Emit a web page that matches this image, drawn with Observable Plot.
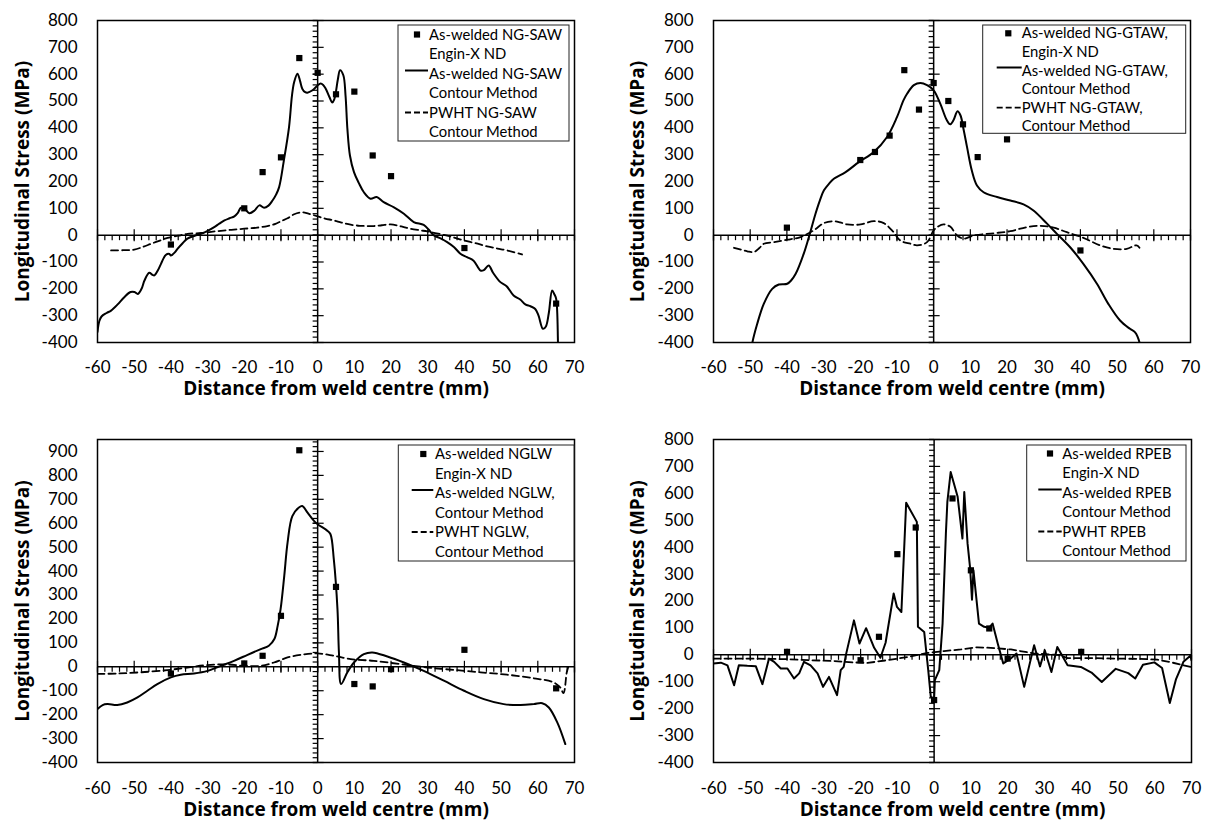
<!DOCTYPE html>
<html><head><meta charset="utf-8">
<script src="https://cdn.jsdelivr.net/npm/d3@7"></script>
<script src="https://cdn.jsdelivr.net/npm/@observablehq/plot@0.6"></script>
<style>
body{margin:0;background:#fff;}
#chart{position:relative;width:1208px;height:823px;background:#fff;font-family:Lato, sans-serif;overflow:hidden;}
#chart svg{position:absolute;}
</style></head><body><div id="chart"></div>
<script>
// ---------- shared axis data ----------
const xTicks = [-60,-50,-40,-30,-20,-10,0,10,20,30,40,50,60,70];
const yTicks800 = [-400,-300,-200,-100,0,100,200,300,400,500,600,700,800];
const yTicks900 = [-400,-300,-200,-100,0,100,200,300,400,500,600,700,800,900];
const xTitle = "Distance from weld centre (mm)";
const yTitle = "Longitudinal Stress (MPa)";

// ---------- Panel 1: NG-SAW ----------
const sawND = [[-40,-35],[-20,100],[-15,235],[-10,290],[-5,660],[0,605],[5,525],[10,535],[15,297],[20,220],[40,-48],[65,-255]];
const sawContour = [[-60,-360],[-59.5,-320],[-58.9,-303],[-57.5,-290],[-56.3,-281],[-54.5,-258],[-52.7,-231],[-51,-212],[-49.9,-212],[-49,-219],[-48,-200],[-47.2,-169],[-45.9,-140],[-45,-148],[-44.5,-150],[-43.5,-130],[-42.7,-107],[-41.4,-74],[-40.4,-70],[-40,-76],[-39,-65],[-38.2,-51],[-36.8,-30],[-35.5,-13],[-33.5,-2],[-31.8,5],[-30,16],[-28.2,30],[-26.8,43],[-25.4,55],[-24,63],[-22.7,70],[-21.8,82],[-20.9,102],[-19.8,97],[-18.6,82],[-17.2,92],[-15.9,111],[-14.6,102],[-13.4,110],[-12.3,129],[-11.3,152],[-10.5,179],[-9.2,279],[-7.8,403],[-7.0,520],[-6.4,571],[-5.5,602],[-4.8,575],[-4.2,546],[-3.4,533],[-2.8,531],[-1.4,540],[0,558],[0.8,565],[1.5,560],[2.2,546],[3.2,515],[4.0,494],[4.5,505],[4.9,528],[5.5,580],[6.1,615],[7.0,596],[7.6,520],[8.1,397],[8.8,297],[9.9,235],[11.2,195],[12.6,160],[14.4,136],[16.1,142],[18.0,123],[20.8,104],[23.5,80],[26.2,49],[28.9,38],[30.3,20],[31.7,-1],[33.5,-12],[35.3,-26],[37.2,-45],[38.9,-69],[40.7,-82],[42.5,-95],[44.4,-132],[45.3,-130],[46.6,-113],[47.8,-140],[49.8,-175],[51.5,-190],[53.4,-225],[55.2,-240],[56.6,-258],[58.0,-265],[59.3,-275],[60.2,-300],[61.4,-349],[62.2,-340],[63.0,-290],[63.9,-206],[64.5,-220],[65.0,-237],[65.5,-400],[65.6,-450]];
const sawPWHT = [[-56.3,-57],[-53,-56],[-50,-54],[-47.5,-43],[-45.4,-32],[-43,-20],[-40.9,-10],[-38,-2],[-35.5,5],[-31.8,8],[-27.3,15],[-23.5,20],[-20,24],[-16.5,28],[-13.7,34],[-11.5,42],[-10,52],[-8.2,63],[-6.4,78],[-4.2,85],[-2.5,80],[0,70],[2,62],[4.4,55],[6.5,47],[9,39],[11.5,35],[13.5,34],[15.3,34],[17.5,37],[19.9,40],[22,35],[23.5,30],[25.3,24],[28,18],[29.9,14],[32,8],[34.4,1],[37,-8],[39.9,-20],[43,-30],[46.2,-42],[49,-50],[51.7,-57],[55.7,-72]];
const sawLegend = ["As-welded NG-SAW","Engin-X ND","As-welded NG-SAW","Contour Method","PWHT NG-SAW","Contour Method"];

// ---------- Panel 2: NG-GTAW ----------
const gtawND = [[-40,28],[-20,280],[-16,310],[-12,371],[-8,615],[-4,468],[0,567],[4,500],[8,413],[12,291],[20,357],[40,-57]];
const gtawContour = [[-49.8,-440],[-49.4,-400],[-48.1,-331],[-46.3,-256],[-44,-200],[-42.2,-184],[-39.9,-181],[-38.8,-168],[-37.6,-144],[-35.4,-69],[-34,-7],[-32.2,80],[-31,130],[-29.9,167],[-28.5,192],[-27.2,210],[-24,235],[-20.4,272],[-16.3,310],[-12.7,366],[-10,440],[-8.2,503],[-7.2,528],[-5.4,559],[-3.6,567],[-1.8,559],[0,540],[1.8,490],[3.6,428],[4.5,413],[5.4,428],[6.5,462],[7.3,447],[8.2,391],[9.1,328],[10.4,241],[11.8,185],[13.6,160],[17.3,142],[20.9,129],[24.5,115],[27.2,92],[30.9,43],[33.6,5],[37.2,-45],[40.8,-107],[44.5,-181],[47.6,-256],[50.8,-318],[53.5,-349],[54.9,-362],[56.1,-400],[56.4,-440]];
const gtawPWHT = [[-54.4,-47],[-52.5,-54],[-50.8,-60],[-49,-63],[-47.5,-48],[-46.3,-32],[-43.5,-26],[-39.9,-17],[-36.3,-7],[-32.7,18],[-29.9,45],[-27.2,52],[-25.5,48],[-23.6,40],[-19.9,40],[-16.3,52],[-13.6,45],[-10.9,11],[-9.1,-20],[-6.3,-32],[-4.5,-38],[-1.8,-26],[0,18],[1.2,32],[2.7,40],[4.5,32],[6.4,-1],[8.2,-13],[10.9,-1],[16.3,7],[20.9,15],[25.4,30],[29,35],[32.7,28],[36.3,11],[40.8,-10],[45.4,-38],[49,-51],[52.6,-51],[55.3,-38],[56.1,-47]];
const gtawLegend = ["As-welded NG-GTAW,","Engin-X ND","As-welded NG-GTAW,","Contour Method","PWHT NG-GTAW,","Contour Method"];

// ---------- Panel 3: NGLW ----------
const nglwND = [[-40,-28],[-20,14],[-15,46],[-10,213],[-5,905],[5,334],[10,-72],[15,-82],[20,-10],[40,71],[65,-90]];
const nglwContour = [[-60,-177],[-58.6,-160],[-57.3,-156],[-54.6,-160],[-51.9,-149],[-49.1,-128],[-46.4,-100],[-43.7,-72],[-40,-44],[-37.3,-33],[-33.7,-28],[-30,-17],[-26.4,4],[-22.8,25],[-19.1,50],[-15.5,74],[-13.3,88],[-11.8,116],[-10.9,171],[-10.1,241],[-9.1,380],[-8.2,519],[-6.9,630],[-5.1,666],[-4.2,672],[-2.8,645],[-1.0,610],[0,596],[2.7,568],[3.5,554],[4.4,450],[5.4,241],[5.8,60],[6.4,-72],[8.1,-23],[9.9,18],[12.6,53],[14.9,60],[19.0,43],[23.5,18],[28.9,-17],[34.4,-58],[39.9,-100],[45.3,-135],[50.7,-156],[55.3,-160],[58.9,-156],[61.2,-152],[63.0,-170],[65.3,-232],[67.5,-323]];
const nglwPWHT = [[-60,-30],[-54.6,-28],[-48.3,-23],[-41,-14],[-35.5,-3],[-30.2,7],[-24.7,10],[-20.1,4],[-15.5,4],[-11.9,18],[-8.2,39],[-4.6,50],[0,56],[4.4,46],[9,32],[15.3,25],[22.6,11],[29.9,-3],[37.1,-13],[44.4,-23],[51.6,-33],[58.9,-48],[64.3,-65],[66.1,-86],[67,-110],[67.9,-23],[68.4,4]];
const nglwLegend = ["As-welded NGLW","Engin-X ND","As-welded NGLW,","Contour Method","PWHT NGLW,","Contour Method"];

// ---------- Panel 4: RPEB ----------
const rpebND = [[-40,11],[-20,-20],[-15,67],[-10,374],[-5,473],[0,-168],[5,581],[10,314],[15,98],[20,-14],[40,11]];
const rpebContour = [[-60,-32],[-58,-29],[-56.2,-39],[-54.4,-113],[-53.1,-39],[-50.8,-41],[-48.5,-42],[-46.7,-109],[-44.9,-14],[-43.5,-26],[-41.7,-51],[-39.9,-51],[-38.1,-88],[-36.7,-69],[-35.4,-26],[-33.6,-39],[-31.7,-69],[-30.2,-119],[-28.6,-82],[-26.4,-150],[-25.4,-57],[-24.6,-45],[-24.0,-1],[-21.8,128],[-20.3,42],[-18.5,99],[-16.3,26],[-14.6,-11],[-13.2,45],[-11.0,228],[-10.1,178],[-8.9,159],[-7.6,565],[-4.7,494],[-4.4,104],[-2.7,85],[-1.6,-57],[-0.9,-156],[0,-162],[0.2,-94],[1.4,-57],[2.3,116],[3.2,450],[3.6,568],[4.5,679],[6.4,587],[7.7,432],[8.2,605],[9.1,413],[9.8,321],[10.3,205],[10.7,314],[12.2,116],[13.6,104],[15.0,101],[15.9,116],[17.3,42],[18.8,-32],[20.6,-16],[22.4,5],[24.5,-119],[27.2,36],[28.8,-43],[30.1,17],[31.9,-64],[33.5,29],[36.3,-39],[39.9,-45],[42.8,-66],[45.6,-101],[49.4,-52],[52.8,-68],[54.7,-88],[56.8,-37],[59.9,-28],[62.0,-49],[64.1,-179],[65.8,-90],[67.8,-26],[69.7,-3],[70,-20]];
const rpebPWHT = [[-60,-14],[-50,-14],[-40,-16],[-33.6,-20],[-27.2,-23],[-22,-28],[-18.1,-30],[-12.7,-20],[-7.2,-8],[-1.8,7],[2.7,14],[7.3,20],[11.8,28],[15.4,26],[20.9,20],[27.2,5],[33.6,0],[36.3,-12],[42.6,-12],[50,-14],[56,-15],[60.7,-18],[64.2,-27],[69.8,-45]];
const rpebLegend = ["As-welded RPEB","Engin-X ND","As-welded RPEB","Contour Method","PWHT RPEB","Contour Method"];

// ---------- helpers ----------
const tickSym = (x0, y0, x1, y1) => ({draw(ctx) { ctx.moveTo(x0, y0); ctx.lineTo(x1, y1); }});
const symXMajor = tickSym(0, -6, 0, 6), symXMinor = tickSym(0, 0, 0, 5);
const symYMajor = tickSym(-5, 0, 6, 0), symYMinor = tickSym(-5, 0, 0, 0);
const toObj = a => a.map(([x, y]) => ({x, y}));
const FONT = "Lato, sans-serif";
const TITLE_FONT = "'Open Sans', sans-serif";

function makePanel(cfg) {
  const yMax = cfg.yDomain[1];
  const xMinor = d3.range(-60, 70.01, 2).map(v => ({x: v, y: 0}));
  const xMajor = xTicks.map(v => ({x: v, y: 0}));
  const yMinor = d3.range(-400, yMax + 0.01, 20).map(v => ({x: 0, y: v}));
  const yMajor = cfg.yTicks.map(v => ({x: 0, y: v}));
  const tk = {x: "x", y: "y", stroke: "black", fill: "none", strokeWidth: 1.2};
  const svg = Plot.plot({
    width: cfg.width, height: cfg.height,
    marginLeft: cfg.ml, marginRight: cfg.mr, marginTop: cfg.mt, marginBottom: cfg.mb,
    style: {fontFamily: FONT, fontSize: "17px", color: "black", background: "white", overflow: "visible"},
    x: {domain: [-60, 70], label: null},
    y: {domain: cfg.yDomain, label: null},
    marks: [
      Plot.axisX({ticks: xTicks, tickSize: 0, tickPadding: cfg.xPad, tickFormat: d => String(d), label: null}),
      Plot.axisY({ticks: cfg.yTicks, tickSize: 0, tickPadding: 20, tickFormat: d => String(d), label: null}),
      Plot.ruleY([0], {stroke: "black", strokeWidth: 1.5}),
      Plot.ruleX([0], {stroke: "black", strokeWidth: 1.5}),
      Plot.dot(xMinor, {...tk, symbol: symXMinor}),
      Plot.dot(xMajor, {...tk, symbol: symXMajor}),
      Plot.dot(yMinor, {...tk, symbol: symYMinor}),
      Plot.dot(yMajor, {...tk, symbol: symYMajor}),
      Plot.line(toObj(cfg.dashed), {x: "x", y: "y", curve: cfg.curve, stroke: "black", strokeWidth: 1.8, strokeDasharray: "7,4", clip: true}),
      Plot.line(toObj(cfg.solid), {x: "x", y: "y", curve: cfg.curve, stroke: "black", strokeWidth: 2, clip: true}),
      Plot.dot(toObj(cfg.points), {x: "x", y: "y", symbol: "square", fill: "black", stroke: "none", r: 3.5}),
      Plot.frame({stroke: "black", strokeWidth: 1.5}),
      Plot.text([yTitle], {frameAnchor: "left", dx: cfg.yTitleDx, rotate: -90, text: d => d, textAnchor: "middle", lineAnchor: "middle",
        fontWeight: "bold", fontSize: 19, fontFamily: TITLE_FONT}),
      Plot.text([xTitle], {frameAnchor: "bottom", dy: cfg.xTitleDy, text: d => d, textAnchor: "middle", lineAnchor: "middle",
        fontWeight: "bold", fontSize: 19, fontFamily: TITLE_FONT})
    ]
  });
  svg.style.left = cfg.left + "px";
  svg.style.top = cfg.top + "px";
  // legend box
  const L = cfg.legend;
  const g = d3.select(svg).append("g").attr("font-family", FONT).attr("font-size", 14.8).attr("text-anchor", "start");
  g.append("rect").attr("x", L.x).attr("y", L.y).attr("width", L.w).attr("height", L.h)
    .attr("fill", "white").attr("stroke", "#222").attr("stroke-width", 1);
  L.labels.forEach((t, i) => {
    g.append("text").attr("x", L.tx).attr("y", L.ty + i * L.dy).attr("dy", "0.35em")
      .attr("text-anchor", "start").attr("fill", "black").text(t);
  });
  const s = 6.2;
  g.append("rect").attr("x", L.mx - s / 2).attr("y", L.ty - s / 2).attr("width", s).attr("height", s).attr("fill", "black");
  g.append("line").attr("x1", L.lx0).attr("x2", L.lx1).attr("y1", L.ty + 2 * L.dy - 3).attr("y2", L.ty + 2 * L.dy - 3)
    .attr("stroke", "black").attr("stroke-width", 2);
  g.append("line").attr("x1", L.lx0).attr("x2", L.lx1).attr("y1", L.ty + 4 * L.dy).attr("y2", L.ty + 4 * L.dy)
    .attr("stroke", "black").attr("stroke-width", 1.8).attr("stroke-dasharray", "6,3");
  document.getElementById("chart").appendChild(svg);
}

makePanel({left: 0, top: 0, width: 604, height: 411, ml: 97, mr: 30, mt: 20, mb: 69,
  yDomain: [-400, 800], yTicks: yTicks800, xPad: 18, yTitleDx: -75, xTitleDy: 46,
  solid: sawContour, dashed: sawPWHT, points: sawND, curve: "catmull-rom",
  legend: {x: 398, y: 25, w: 171, h: 116, tx: 429, ty: 34.5, dy: 19.5, mx: 417, lx0: 405, lx1: 428, labels: sawLegend}});

makePanel({left: 604, top: 0, width: 604, height: 411, ml: 109, mr: 18, mt: 20, mb: 69,
  yDomain: [-400, 800], yTicks: yTicks800, xPad: 18, yTitleDx: -76, xTitleDy: 46,
  solid: gtawContour, dashed: gtawPWHT, points: gtawND, curve: "catmull-rom",
  legend: {x: 378.7, y: 25, w: 203, h: 108.3, tx: 417.7, ty: 33.3, dy: 18.6, mx: 404.3, lx0: 392.7, lx1: 417.7, labels: gtawLegend}});

makePanel({left: 0, top: 411, width: 604, height: 412, ml: 97, mr: 30, mt: 28, mb: 61,
  yDomain: [-400, 950], yTicks: yTicks900, xPad: 19, yTitleDx: -75, xTitleDy: 47,
  solid: nglwContour, dashed: nglwPWHT, points: nglwND, curve: "catmull-rom",
  legend: {x: 398.3, y: 34, w: 175.7, h: 116, tx: 435, ty: 43, dy: 19.5, mx: 423.3, lx0: 411.7, lx1: 433.3, labels: nglwLegend}});

makePanel({left: 604, top: 411, width: 604, height: 412, ml: 109, mr: 17, mt: 28, mb: 61,
  yDomain: [-400, 800], yTicks: yTicks800, xPad: 19, yTitleDx: -76, xTitleDy: 47,
  solid: rpebContour, dashed: rpebPWHT, points: rpebND, curve: "linear",
  legend: {x: 422.7, y: 34, w: 159.3, h: 116, tx: 458.3, ty: 42.5, dy: 19.5, mx: 446, lx0: 434.3, lx1: 457.7, labels: rpebLegend}});
</script></body></html>
